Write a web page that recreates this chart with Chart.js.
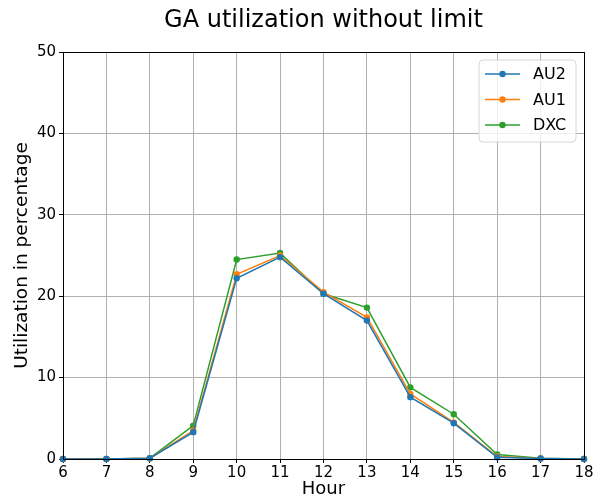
<!DOCTYPE html>
<html>
<head>
<meta charset="utf-8">
<script src="https://cdn.jsdelivr.net/npm/chart.js@4/dist/chart.umd.min.js"></script>
<style>
  html, body { margin: 0; padding: 0; background: #fff; }
  #wrap { width: 607px; height: 500px; }
</style>
</head>
<body>
<div id="wrap"><canvas id="c" width="607" height="500"></canvas></div>
<script>
// Hours of the day on the x axis
const hours = [6, 7, 8, 9, 10, 11, 12, 13, 14, 15, 16, 17, 18];
// Utilization (%) per hour for each site
const au2 = [0, 0, 0.1, 3.3, 22.2, 24.8, 20.3, 17.0, 7.6, 4.4, 0.2, 0.05, 0];
const au1 = [0, 0, 0.1, 3.5, 22.7, 25.0, 20.5, 17.4, 8.0, 4.5, 0.3, 0.05, 0];
const dxc = [0, 0, 0.1, 4.1, 24.5, 25.3, 20.3, 18.6, 8.8, 5.5, 0.55, 0.1, 0];
const seriesNames = ['AU2', 'AU1', 'DXC'];
const seriesColors = ['#1f77b4', '#ff7f0e', '#2ca02c'];
const yTicks = [0, 10, 20, 30, 40, 50];

const toPoints = (vals) => hours.map((h, i) => ({ x: h, y: vals[i] }));
const datasets = [au2, au1, dxc].map((vals, i) => ({
  label: seriesNames[i],
  data: toPoints(vals),
  borderColor: seriesColors[i],
  backgroundColor: seriesColors[i],
  borderWidth: 1.5,
  pointRadius: 3.2,
  pointHoverRadius: 3.2,
  pointBorderWidth: 0,
  tension: 0,
  clip: 6
}));

const FONT = "'DejaVu Sans', sans-serif";

// Black frame around the plot area plus an in-plot legend box
const framePlugin = {
  id: 'frameAndLegend',
  afterDatasetsDraw(chart) {
    const { ctx, chartArea: a } = chart;
    ctx.save();
    ctx.strokeStyle = '#000';
    ctx.lineWidth = 1;
    ctx.strokeRect(Math.round(a.left) + 0.5, Math.round(a.top) + 0.5,
                   Math.round(a.right - a.left), Math.round(a.bottom - a.top));

    // legend
    const bx = 479, by = 60, bw = 97, bh = 82, r = 4;
    ctx.beginPath();
    ctx.moveTo(bx + r, by);
    ctx.arcTo(bx + bw, by, bx + bw, by + bh, r);
    ctx.arcTo(bx + bw, by + bh, bx, by + bh, r);
    ctx.arcTo(bx, by + bh, bx, by, r);
    ctx.arcTo(bx, by, bx + bw, by, r);
    ctx.closePath();
    ctx.fillStyle = 'rgba(255,255,255,0.8)';
    ctx.fill();
    ctx.strokeStyle = '#d6d6d6';
    ctx.stroke();

    ctx.font = '16px ' + FONT;
    ctx.textBaseline = 'middle';
    ctx.textAlign = 'left';
    chart.data.datasets.forEach((ds, i) => {
      const y = 74 + i * 25.5;
      ctx.strokeStyle = ds.borderColor;
      ctx.lineWidth = 1.5;
      ctx.beginPath();
      ctx.moveTo(485, y);
      ctx.lineTo(520, y);
      ctx.stroke();
      ctx.fillStyle = ds.borderColor;
      ctx.beginPath();
      ctx.arc(502.5, y, 3.2, 0, Math.PI * 2);
      ctx.fill();
      ctx.fillStyle = '#000';
      ctx.fillText(ds.label, 533, y + 1);
    });
    ctx.restore();
  }
};

new Chart(document.getElementById('c'), {
  type: 'line',
  data: { datasets },
  options: {
    responsive: false,
    animation: false,
    events: [],
    layout: { padding: { left: 0, right: 23, top: 0, bottom: 0 } },
    plugins: {
      legend: { display: false },
      tooltip: { enabled: false },
      title: {
        display: true,
        text: 'GA utilization without limit',
        fullSize: false,
        color: '#000',
        font: { family: FONT, size: 24, weight: 'normal', lineHeight: 1.2 },
        padding: { top: 6, bottom: 17.2 }
      }
    },
    scales: {
      x: {
        type: 'linear',
        min: 6, max: 18,
        afterFit(s) { s.height = 41; },
        afterBuildTicks(s) { s.ticks = hours.map(v => ({ value: v })); },
        ticks: { color: '#000', font: { family: FONT, size: 15 }, padding: 1, maxRotation: 0 },
        grid: { color: '#b0b0b0', lineWidth: 1, tickColor: '#000', tickLength: 4, drawTicks: true },
        border: { color: '#000' },
        title: { display: true, text: 'Hour', color: '#000', font: { family: FONT, size: 18 }, padding: { top: 0, bottom: 0 } }
      },
      y: {
        min: 0, max: 50,
        afterFit(s) { s.width = 63; },
        afterBuildTicks(s) { s.ticks = yTicks.map(v => ({ value: v })); },
        ticks: { color: '#000', font: { family: FONT, size: 15 }, padding: 3 },
        grid: { color: '#b0b0b0', lineWidth: 1, tickColor: '#000', tickLength: 4, drawTicks: true },
        border: { color: '#000' },
        title: { display: true, text: 'Utilization in percentage', color: '#000', font: { family: FONT, size: 18.5 }, padding: { top: 11, bottom: 0 } }
      }
    }
  },
  plugins: [framePlugin]
});
</script>
</body>
</html>
